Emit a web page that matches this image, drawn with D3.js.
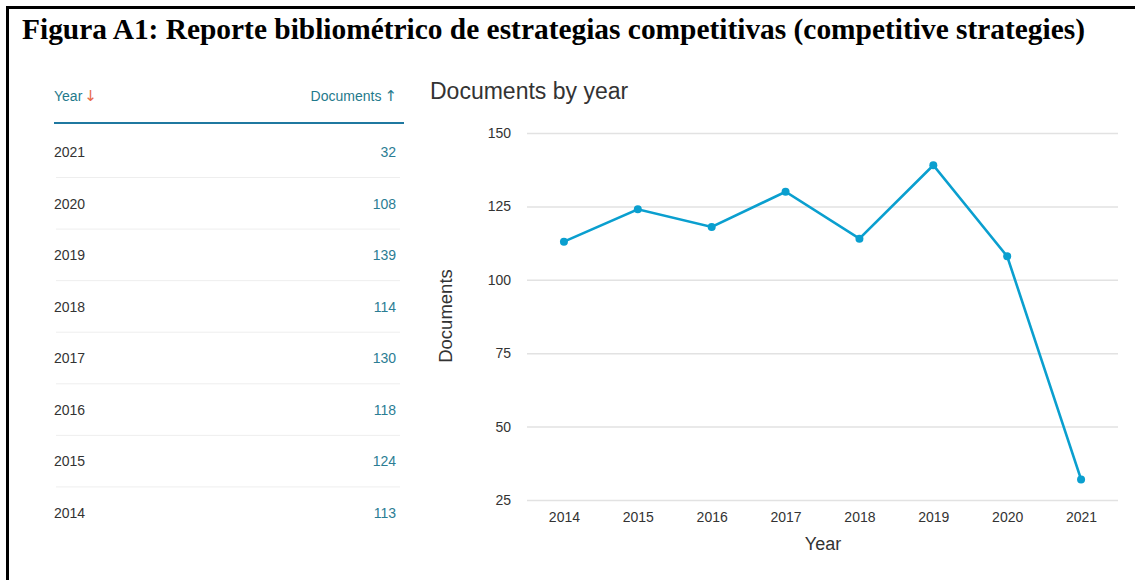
<!DOCTYPE html>
<html><head><meta charset="utf-8">
<script src="https://cdn.jsdelivr.net/npm/d3@7"></script>
<style>
html,body{margin:0;padding:0;background:#fff;}
svg{display:block;}
</style></head>
<body><svg id="c" width="1135" height="580"></svg>
<script>
const figureTitle = "Figura A1: Reporte bibliométrico de estrategias competitivas (competitive strategies)";
const chartTitle = "Documents by year";
const years = [2014, 2015, 2016, 2017, 2018, 2019, 2020, 2021];
const documents = [113, 124, 118, 130, 114, 139, 108, 32];
const yTicks = [25, 50, 75, 100, 125, 150];
const tableHeaders = ["Year", "Documents"];

const svg = d3.select("#c");
const font = "'Liberation Sans', Arial, sans-serif";

// frame
svg.append("line").attr("x1",7).attr("x2",1135).attr("y1",7.5).attr("y2",7.5).attr("stroke","#000").attr("stroke-width",3);
svg.append("line").attr("x1",7.5).attr("x2",7.5).attr("y1",6).attr("y2",580).attr("stroke","#000").attr("stroke-width",3);

svg.append("text").attr("x",22).attr("y",39)
  .attr("font-family","'Liberation Serif','Times New Roman',serif").attr("font-weight","bold")
  .attr("font-size",29.5).attr("fill","#000")
  .attr("textLength",1063).attr("lengthAdjust","spacingAndGlyphs").text(figureTitle);

// table
const tbl = svg.append("g").attr("font-family",font);
const hdr = tbl.append("text").attr("x",54).attr("y",101).attr("font-size",14).attr("fill","#1f7a8c");
hdr.append("tspan").text(tableHeaders[0]);
hdr.append("tspan").attr("dx",2).attr("fill","#e8684a").attr("font-family","'DejaVu Sans'").attr("font-size",15).text("↓");
const hdr2 = tbl.append("text").attr("x",397).attr("y",101).attr("text-anchor","end").attr("font-size",14).attr("fill","#1f7a8c");
hdr2.append("tspan").text(tableHeaders[1]);
hdr2.append("tspan").attr("dx",3).attr("font-family","'DejaVu Sans'").attr("font-size",15).text("↑");
tbl.append("line").attr("x1",54).attr("x2",404).attr("y1",123).attr("y2",123).attr("stroke","#1f78a0").attr("stroke-width",2);

const rows = years.map((y,i)=>({year:y, docs:documents[i]})).reverse();
const rowY = d3.scaleLinear().domain([0, rows.length-1]).range([152, 513]);
rows.forEach((r,i)=>{
  const cy = rowY(i);
  tbl.append("text").attr("x",54).attr("y",cy+5).attr("font-size",14).attr("fill","#333").text(r.year);
  tbl.append("text").attr("x",396).attr("y",cy+5).attr("text-anchor","end").attr("font-size",14).attr("fill","#2b7d94").text(r.docs);
  if(i < rows.length-1){
    tbl.append("line").attr("x1",56).attr("x2",400).attr("y1",cy+25.5).attr("y2",cy+25.5).attr("stroke","#eeeeee").attr("stroke-width",1);
  }
});

// chart
svg.append("text").attr("x",430).attr("y",99).attr("font-family",font).attr("font-size",23).attr("fill","#333").text(chartTitle);

const x = d3.scalePoint().domain(years).range([527,1118]).padding(0.5);
const y = d3.scaleLinear().domain([25,150]).range([500,133]);

const gy = svg.append("g").attr("transform","translate(527,0)")
  .call(d3.axisLeft(y).tickValues(yTicks).tickSize(-591).tickPadding(16));
gy.select(".domain").remove();
gy.selectAll(".tick line").attr("stroke","#e2e2e2").attr("stroke-width",1.5);
gy.selectAll(".tick text").attr("font-family",font).attr("font-size",14).attr("fill","#333");

const gx = svg.append("g").attr("transform","translate(0,500)")
  .call(d3.axisBottom(x).tickSize(0).tickPadding(12));
gx.select(".domain").remove();
gx.selectAll(".tick text").attr("font-family",font).attr("font-size",14).attr("fill","#333");

svg.append("text").attr("x",823).attr("y",550).attr("text-anchor","middle").attr("font-family",font).attr("font-size",18).attr("fill","#333").text("Year");
svg.append("text").attr("transform","translate(452,316) rotate(-90)").attr("text-anchor","middle").attr("font-family",font).attr("font-size",18.5).attr("fill","#333").text("Documents");

const data = years.map((yr,i)=>({yr, v:documents[i]}));
svg.append("path").datum(data).attr("fill","none").attr("stroke","#0a9fcf").attr("stroke-width",2.6)
  .attr("d", d3.line().x(d=>x(d.yr)).y(d=>y(d.v)));
svg.selectAll("circle.pt").data(data).enter().append("circle").attr("class","pt")
  .attr("cx",d=>x(d.yr)).attr("cy",d=>y(d.v)).attr("r",4).attr("fill","#0a9fcf");
</script></body></html>
